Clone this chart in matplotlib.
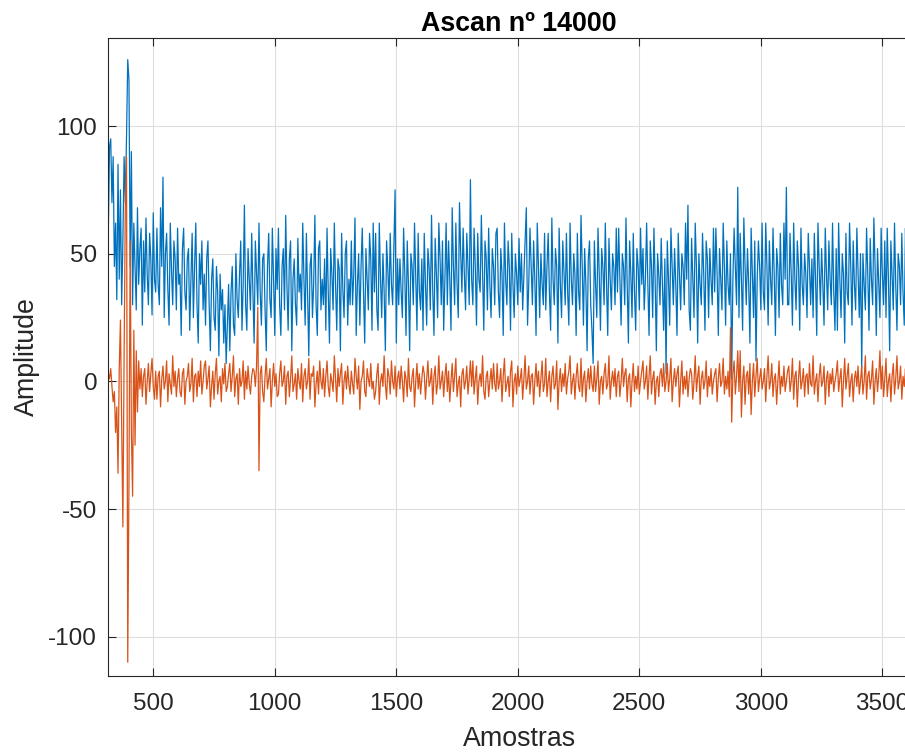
import matplotlib
matplotlib.use("Agg")
import matplotlib.pyplot as plt
import numpy as np

# Ascan values, one value every 5 samples from 315
passo = 5
inicio = 315
ascan_azul = [
    58, 92, 95, 70, 88, 45, 62, 32, 85, 40, 75, 30, 55, 88, 70, 96, 126, 118, 45, 90,
    30, 62, 45, 28, 68, 38, 52, 60, 22, 55, 35, 64, 42, 30, 58, 48, 26, 66, 40, 35,
    60, 38, 30, 68, 45, 80, 25, 50, 58, 36, 22, 62, 44, 30, 55, 48, 28, 60, 38, 42,
    18, 52, 60, 35, 28, 48, 52, 20, 40, 58, 25, 45, 62, 30, 15, 50, 38, 55, 28, 42,
    22, 48, 55, 30, 12, 40, 48, 25, 20, 45, 35, 10, 42, 28, 36, 15, 30, 7, 22, 38,
    12, 35, 45, 22, 18, 50, 32, 25, 42, 55, 20, 38, 69, 30, 20, 52, 40, 28, 58, 35,
    15, 55, 42, 30, 62, 35, 22, 48, 50, 28, 12, 45, 58, 32, 25, 60, 40, 18, 52, 36,
    60, 30, 18, 45, 52, 28, 65, 38, 20, 48, 55, 12, 40, 48, 30, 22, 56, 35, 42, 28,
    62, 40, 22, 58, 35, 10, 45, 50, 25, 38, 65, 30, 18, 52, 55, 28, 40, 30, 48, 20,
    60, 35, 15, 52, 42, 28, 62, 38, 20, 48, 44, 12, 58, 36, 25, 50, 55, 22, 40, 30,
    55, 30, 42, 64, 18, 38, 50, 22, 45, 60, 35, 15, 52, 40, 28, 58, 48, 20, 62, 35,
    58, 28, 20, 62, 40, 25, 50, 35, 12, 55, 44, 30, 58, 38, 30, 52, 75, 15, 48, 30,
    48, 35, 25, 60, 42, 18, 55, 38, 12, 50, 45, 30, 62, 40, 20, 58, 35, 28, 48, 20,
    58, 38, 22, 52, 45, 28, 65, 35, 18, 56, 42, 25, 62, 48, 30, 55, 20, 40, 62, 30,
    55, 40, 20, 68, 45, 30, 62, 38, 25, 70, 50, 35, 60, 42, 28, 58, 45, 30, 79, 40,
    30, 60, 45, 22, 58, 40, 35, 65, 42, 20, 55, 48, 28, 60, 38, 25, 52, 45, 30, 58,
    60, 35, 25, 52, 42, 18, 62, 40, 30, 55, 45, 20, 58, 38, 25, 50, 42, 30, 56, 35,
    50, 28, 42, 55, 68, 22, 38, 60, 45, 30, 55, 40, 18, 62, 45, 25, 50, 38, 30, 58,
    28, 45, 58, 35, 20, 64, 40, 30, 52, 45, 15, 60, 38, 25, 55, 42, 30, 58, 35, 22,
    62, 40, 30, 50, 42, 18, 58, 35, 28, 65, 45, 22, 52, 38, 12, 48, 55, 30, 20, 7,
    55, 38, 25, 60, 42, 20, 52, 45, 30, 62, 38, 18, 56, 40, 28, 50, 45, 30, 60, 35,
    60, 40, 22, 50, 45, 30, 64, 38, 15, 55, 42, 25, 58, 35, 20, 52, 45, 28, 60, 38,
    52, 28, 40, 62, 38, 18, 55, 45, 25, 60, 40, 12, 50, 42, 30, 56, 38, 20, 48, 3,
    55, 40, 22, 60, 45, 30, 52, 38, 18, 58, 42, 28, 50, 45, 30, 62, 40, 69, 28, 20,
    56, 40, 25, 62, 45, 15, 50, 38, 30, 58, 42, 20, 55, 48, 25, 52, 40, 30, 60, 35,
    60, 42, 18, 52, 40, 28, 62, 45, 22, 55, 38, 30, 50, 1, 40, 60, 45, 30, 76, 25,
    58, 40, 20, 64, 45, 30, 52, 38, 15, 60, 42, 25, 55, 8, 40, 55, 45, 28, 62, 35,
    28, 62, 45, 22, 55, 40, 30, 60, 42, 18, 52, 45, 25, 58, 38, 30, 62, 40, 76, 30,
    30, 58, 42, 22, 62, 40, 28, 55, 45, 20, 60, 38, 30, 50, 42, 25, 58, 45, 30, 48,
    25, 58, 40, 18, 62, 45, 30, 52, 38, 22, 60, 42, 28, 55, 40, 30, 62, 35, 20, 52,
    20, 62, 40, 25, 50, 42, 15, 58, 35, 30, 62, 45, 22, 55, 38, 28, 60, 42, 25, 50,
    5, 50, 38, 28, 60, 42, 20, 56, 40, 30, 64, 45, 18, 52, 38, 25, 60, 42, 30, 55,
    25, 60, 40, 12, 55, 42, 28, 62, 38, 20, 50, 45, 30, 58, 35, 22, 60, 40, 28, 52,
    22, 60, 42, 28, 52, 38, 15, 58, 40, 25, 62, 45, 30, 55, 38, 20, 50,
]
ascan_laranja = [
    3, 1, 5, -2, -8, -4, -20, -10, -36, 5, 24, -15, -57, 10, 68, 88, -110, -40, 55, -20,
    -45, 20, -25, 12, -12, 8, -3, 5, -6, 2, 5, -9, 0, 7, -4, 3, 9, -2, -7, 4,
    -7, 2, 4, -10, 1, 6, -3, 0, 8, -8, 3, -1, -5, 10, -2, 4, -6, 1, 5, -4,
    -6, 3, 5, -9, 0, 2, 7, -4, -1, 9, -8, 2, 3, -6, 4, -2, 8, -5, 0, 6,
    8, -3, 1, 6, -10, -2, 4, -7, 3, 9, -5, 0, 2, -8, 5, -1, 7, -4, -2, 3,
    7, -4, 2, 10, -6, 1, 3, -9, 5, -2, 0, 8, -7, 4, -3, 6, -1, -5, 2, 5,
    4, -2, 6, 29, -35, 3, 6, -4, -8, 2, 9, -3, 1, 5, -10, 0, 7, -2, 3, -6,
    -5, 3, 8, -2, 0, 6, -9, 2, 4, -6, 1, 10, -4, -1, 3, -7, 5, 0, -3, 7,
    -8, 2, 5, -3, 0, 9, -7, 3, 2, 6, -10, -1, 4, -5, 8, 0, -3, 5, -6, 2,
    8, -2, -6, 3, 0, -4, 10, 1, -8, 5, -2, 3, 7, -9, 0, 4, -3, 6, -1, -5,
    4, -1, -5, 9, 2, -3, 6, -11, 0, 2, 8, -4, -6, 5, 1, -2, 7, -3, 0, -7,
    -4, 3, 7, -9, 0, 3, -2, 10, -1, -7, 5, 2, -5, 8, 0, -3, 6, -6, 1, 4,
    -3, 6, 0, -8, 4, 1, -6, 9, -2, -4, 2, 5, -10, 0, 7, -3, 3, -5, 1, 6,
    3, -7, 1, 8, -2, 0, 5, -9, 2, 6, -5, -1, 10, -3, 0, 4, -6, 2, 7, -4,
    4, -8, 0, 7, -4, 2, 9, -6, -1, 2, -10, 3, 5, -3, 0, 6, -5, 1, 8, -2,
    8, -5, 1, 6, -9, 0, 3, -2, 10, -4, -7, 2, 4, -6, 0, 5, -3, 7, -1, -4,
    7, -3, 0, 5, -8, 2, 9, -4, -1, 2, -6, 4, 8, -10, 0, 3, -5, 6, -2, 1,
    5, -7, 1, 10, -3, 0, 6, -5, 2, 3, -9, 0, 7, -2, 4, -6, 1, 8, -4, -1,
    9, -6, 0, 4, -8, 2, 6, -3, -1, 8, -11, 0, 5, -4, 3, -2, 7, -5, 1, 4,
    10, -5, 0, 3, -7, 2, 7, -2, -4, 9, -6, 1, 4, -8, 0, 5, -3, 6, -1, -4,
    6, -4, 1, 8, -9, 0, 2, -5, 3, 7, -3, -1, 10, -7, 0, 4, -2, 5, -6, 2,
    4, -6, 0, 9, -2, 3, 5, -8, 1, 3, -10, 0, 7, -4, 2, -3, 6, -5, 0, 4,
    8, -3, 0, 6, -7, 2, 10, -5, 1, 4, -9, 0, 2, -6, 3, 5, -2, 7, -4, 0,
    7, -4, 1, 9, -8, 0, 5, -2, 3, 6, -10, 0, 8, -5, 2, -3, 4, -6, 1, 5,
    3, -7, 0, 10, -4, 2, 6, -9, 1, 4, -3, 0, 8, -6, 2, -2, 5, -5, 0, 3,
    5, -8, 1, 7, -2, 0, 9, -5, 2, -3, 4, -6, 21, -16, 3, 8, -5, 2, 12, -4,
    12, -14, 0, 6, -9, 2, 4, -5, 7, -13, 0, 7, -6, 2, 9, -4, 1, 5, -3, 0,
    5, -8, 2, 10, -3, 0, 7, -6, 1, 3, -9, 0, 8, -5, 2, -2, 6, -4, 0, 4,
    6, -4, 0, 9, -7, 2, 4, -10, 1, 8, -3, 0, 5, -6, 2, 3, -5, 7, -1, -2,
    10, -5, 0, 3, -8, 2, 7, -2, 0, 6, -9, 1, 4, -6, 3, -1, 5, -4, 0, 3,
    8, -4, 1, 5, -10, 0, 9, -3, 2, 7, -6, 0, 3, -8, 1, 4, -2, 6, -5, 0,
    6, -5, 0, 10, -7, 2, 4, -3, 1, 8, -9, 0, 5, -4, 2, 12, -3, 6, -6, 1,
    9, -6, 0, 3, -8, 2, 7, -5, 1, 10, -3, 0, 6, -7, 2, -2, 5, -4, 0, 4,
    4, -9, 1, 8, -2, 0, 6, -6, 2, 9, -4, 0, 5, -3, 1, 6, -2,
]
titulo = "Ascan nº 14000"
xticks = [500, 1000, 1500, 2000, 2500, 3000, 3500]
yticks = [-100, -50, 0, 50, 100]

amostras_azul = inicio + passo * np.arange(len(ascan_azul))
amostras_laranja = inicio + passo * np.arange(len(ascan_laranja))

plt.rcParams['font.family'] = ['Liberation Sans', 'DejaVu Sans']
plt.rcParams['axes.unicode_minus'] = False

fig = plt.figure(figsize=(9.05, 7.53), dpi=100)
# axes run past the right edge of the picture, as in the reference
ax = fig.add_axes([108.3 / 905, 77 / 753, 821.7 / 905, 638.3 / 753])

ax.plot(amostras_azul, ascan_azul, color='#0072BD', lw=0.9)
ax.plot(amostras_laranja, ascan_laranja, color='#D95319', lw=0.9)

ax.set_xlim(315, 3696)
ax.set_ylim(-115.4, 134.6)
ax.set_xticks(xticks)
ax.set_yticks(yticks)

ax.grid(True, color='#dedede', lw=0.8)
ax.set_axisbelow(True)
for s in ax.spines.values():
    s.set_color('#262626')
    s.set_linewidth(0.8)
ax.tick_params(direction='in', top=True, right=True, length=6, width=0.8,
               colors='#262626', labelsize=17.5)
ax.tick_params(axis='x', pad=12)
ax.tick_params(axis='y', pad=8)

ax.set_xlabel('Amostras', fontsize=19.3, color='#262626', labelpad=8)
ax.set_ylabel('Amplitude', fontsize=19.3, color='#262626', labelpad=6)
ax.set_title(titulo, fontsize=19.3, fontweight='bold', pad=5)

fig.savefig('out.png', dpi=100)
